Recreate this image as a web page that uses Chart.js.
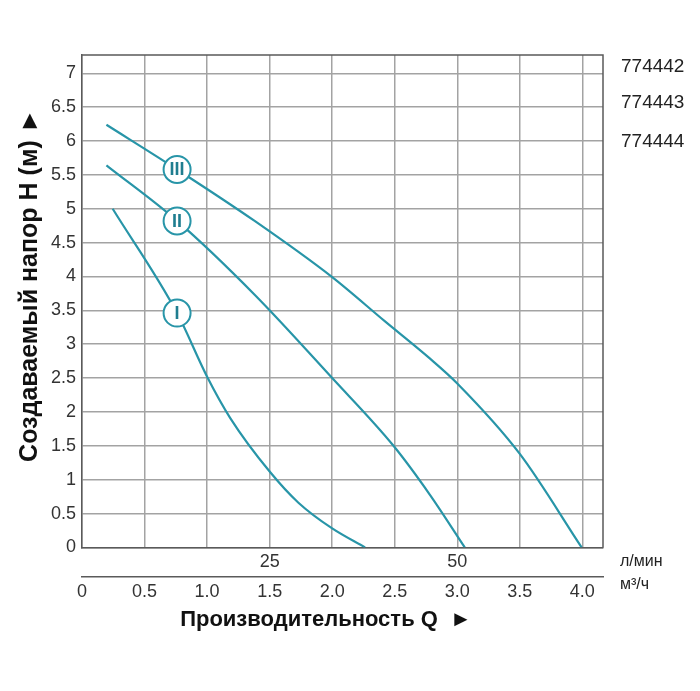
<!DOCTYPE html>
<html>
<head>
<meta charset="utf-8">
<script src="https://cdn.jsdelivr.net/npm/chart.js@4.4.1/dist/chart.umd.min.js"></script>
<style>
  html, body { margin: 0; padding: 0; background: #fff; }
  #wrap { width: 700px; height: 691px; position: relative; }
</style>
</head>
<body>
<div id="wrap"><canvas id="pumpChart"></canvas></div>
<script>
// --- data (Q in m³/h, H in m) ---
const flowI = [0.245, 0.76, 1.00, 1.185, 1.50, 1.73, 2.00, 2.263];
const headI = [5.00, 3.46, 2.52, 1.91, 1.12, 0.66, 0.28, 0.00];

const flowII = [0.195, 0.76, 1.38, 2.00, 2.49, 2.78, 3.06];
const headII = [5.64, 4.82, 3.73, 2.50, 1.50, 0.78, 0.00];

const flowIII = [0.195, 0.76, 1.38, 2.00, 2.42, 2.78, 3.00, 3.50, 3.994];
const headIII = [6.24, 5.58, 4.82, 3.99, 3.34, 2.79, 2.42, 1.38, 0.00];

const curveNames = ["I", "II", "III"];
const markerFlow = [0.76, 0.76, 0.76];
const markerHead = [3.46, 4.82, 5.58];

const modelNames = ["774442", "774443", "774444"];
const litreTicks = { 1.5: "25", 3: "50" }; // 25 л/мин = 1.5 m³/h
const unitNames = ["л/мин", "м³/ч"];

const TEAL = "#2895a8";
const GRID = "#a3a3a3";
const FRAME = "#5a5a5a";
const FONT = "'Liberation Sans', Arial, sans-serif";

Chart.defaults.font.family = FONT;
Chart.defaults.color = "#333";

const toPoints = (xs, ys) => xs.map((x, i) => ({ x, y: ys[i] }));

function curve(label, xs, ys) {
  return {
    label,
    data: toPoints(xs, ys),
    showLine: true,
    borderColor: TEAL,
    borderWidth: 2.2,
    pointRadius: 0,
    cubicInterpolationMode: "monotone",
    order: 1,
  };
}

// circle labels + frame + side texts
const extras = {
  id: "extras",
  afterDatasetsDraw(chart) {
    const { ctx } = chart;
    const meta = chart.getDatasetMeta(0);
    ctx.save();
    ctx.fillStyle = "#1f7d8f";
    ctx.font = "bold 18px " + FONT;
    ctx.textAlign = "center";
    ctx.textBaseline = "middle";
    meta.data.forEach((pt, i) => ctx.fillText(curveNames[i], pt.x, pt.y + 1));
    ctx.restore();
  },
  afterDraw(chart) {
    const { ctx, chartArea: a } = chart;
    ctx.save();
    // top & right edges of the frame
    ctx.strokeStyle = FRAME;
    ctx.lineWidth = 1.5;
    ctx.beginPath();
    ctx.moveTo(a.left, a.top);
    ctx.lineTo(a.right, a.top);
    ctx.lineTo(a.right, a.bottom);
    ctx.stroke();

    ctx.fillStyle = "#222";
    ctx.textAlign = "left";
    ctx.textBaseline = "middle";
    ctx.font = "19px " + FONT;
    const modelY = [12, 48, 87];
    modelNames.forEach((n, i) => ctx.fillText(n, a.right + 18, a.top + modelY[i]));

    ctx.font = "16px " + FONT;
    ctx.fillText(unitNames[0], a.right + 17, a.bottom + 14);
    ctx.fillText(unitNames[1], a.right + 17, a.bottom + 37);
    ctx.restore();
  },
};

new Chart(document.getElementById("pumpChart"), {
  type: "scatter",
  data: {
    datasets: [
      {
        label: "markers",
        data: toPoints(markerFlow, markerHead),
        pointRadius: 13.5,
        pointHoverRadius: 13.5,
        pointBackgroundColor: "#fff",
        pointBorderColor: TEAL,
        pointBorderWidth: 2,
        order: 0,
      },
      curve("I", flowI, headI),
      curve("II", flowII, headII),
      curve("III", flowIII, headIII),
    ],
  },
  options: {
    responsive: true,
    maintainAspectRatio: false,
    animation: false,
    events: [],
    layout: { padding: { left: 13, right: 97, top: 55, bottom: 58 } },
    plugins: { legend: { display: false }, tooltip: { enabled: false } },
    scales: {
      x: {
        type: "linear",
        position: "bottom",
        min: 0,
        max: 4.165,
        grid: { color: GRID, lineWidth: 1.5, drawTicks: false },
        border: { color: FRAME, width: 1.5 },
        ticks: {
          stepSize: 0.5,
          includeBounds: false,
          padding: 4,
          maxRotation: 0,
          autoSkip: false,
          font: { size: 18 },
          callback: (v) => litreTicks[Math.round(v * 10) / 10] || "",
        },
      },
      x2: {
        type: "linear",
        position: "bottom",
        min: 0,
        max: 4.165,
        grid: { display: false, drawTicks: false },
        border: { display: true, color: FRAME, width: 1.5 },
        ticks: {
          stepSize: 0.5,
          includeBounds: false,
          padding: 4,
          maxRotation: 0,
          autoSkip: false,
          font: { size: 18 },
          callback: (v) => (v === 0 ? "0" : v.toFixed(1)),
        },
        title: {
          display: true,
          text: "Производительность Q  ►\u2002\u2002\u2002",
          font: { size: 22, weight: "bold" },
          color: "#111",
          padding: { top: 0, bottom: 0 },
        },
      },
      y: {
        type: "linear",
        min: 0,
        max: 7.27,
        grid: { color: GRID, lineWidth: 1.5, drawTicks: false },
        border: { color: FRAME, width: 1.5 },
        ticks: {
          stepSize: 0.5,
          includeBounds: false,
          padding: 6,
          font: { size: 18 },
          callback: (v) => String(Math.round(v * 10) / 10),
        },
        title: {
          display: true,
          text: "\u2002\u2002 Создаваемый напор H (м) ►",
          font: { size: 25, weight: "bold" },
          color: "#111",
          padding: { top: 2, bottom: 0 },
        },
      },
    },
  },
  plugins: [extras],
});
</script>
</body>
</html>
